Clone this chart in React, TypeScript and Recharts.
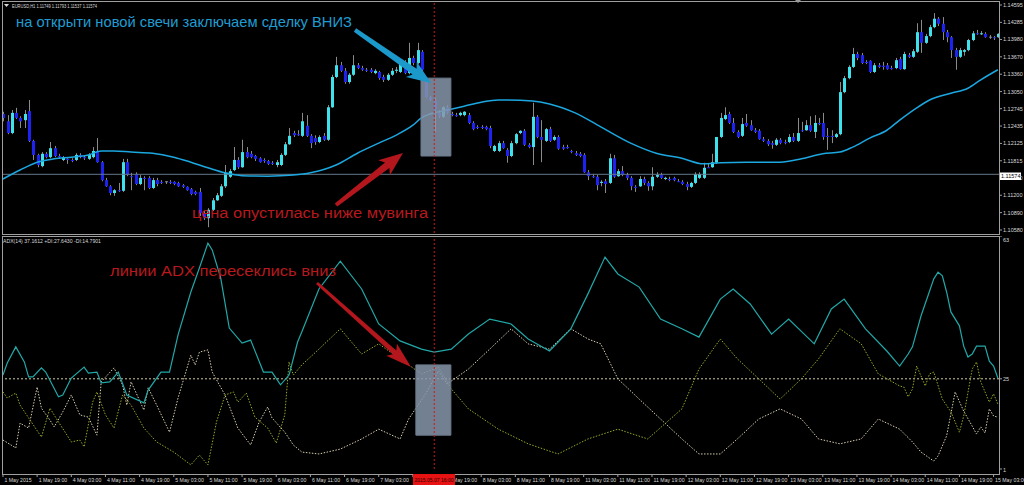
import React from "react";
import {
  ComposedChart,
  Bar,
  Line,
  XAxis,
  YAxis,
  ReferenceLine,
  ReferenceArea,
} from "recharts";

// EURUSD H1, bar 0 = 1 May 2015 11:00
const open = [
  1.1265, 1.1252, 1.1231, 1.1267, 1.1258, 1.1254, 1.127, 1.1217, 1.1192, 1.1172,
  1.1194, 1.1188, 1.1204, 1.119, 1.1183, 1.1185, 1.1183, 1.1183, 1.1192, 1.1188,
  1.1185, 1.1188, 1.1199, 1.1179, 1.1147, 1.1136, 1.1124, 1.1129, 1.1128, 1.1179,
  1.1154, 1.1158, 1.114, 1.1151, 1.1151, 1.1133, 1.1147, 1.1144, 1.1144, 1.1144,
  1.1144, 1.1142, 1.1138, 1.1135, 1.1131, 1.1126, 1.1126, 1.1088, 1.1079, 1.1094,
  1.1111, 1.1119, 1.1136, 1.1153, 1.1165, 1.1183, 1.117, 1.1197, 1.1194, 1.119,
  1.1186, 1.1183, 1.1181, 1.1178, 1.1174, 1.1174, 1.1192, 1.1211, 1.1231, 1.1229,
  1.1226, 1.1244, 1.1226, 1.1222, 1.1215, 1.1226, 1.1219, 1.1277, 1.1331, 1.1352,
  1.1342, 1.1322, 1.1335, 1.1352, 1.1347, 1.1344, 1.1344, 1.1338, 1.134, 1.1331,
  1.1326, 1.1335, 1.1342, 1.134, 1.1349, 1.1338, 1.1365, 1.1356, 1.1376, 1.1326,
  1.1295, 1.129, 1.1267, 1.126, 1.1277, 1.1265, 1.1263, 1.1263, 1.1263, 1.1263,
  1.1249, 1.1242, 1.1242, 1.1242, 1.124, 1.1199, 1.1199, 1.1213, 1.1201, 1.119,
  1.1213, 1.1231, 1.1235, 1.121, 1.1206, 1.126, 1.1224, 1.1217, 1.1238, 1.1219,
  1.1224, 1.1206, 1.1206, 1.1199, 1.1195, 1.1194, 1.1192, 1.1161, 1.1154, 1.1153,
  1.1142, 1.1145, 1.1142, 1.1186, 1.1154, 1.1163, 1.1156, 1.1151, 1.1135, 1.1136,
  1.1149, 1.1142, 1.1136, 1.1153, 1.1156, 1.1149, 1.1149, 1.1151, 1.1145, 1.1144,
  1.114, 1.1135, 1.1142, 1.1151, 1.1151, 1.117, 1.117, 1.1178, 1.1224, 1.1256,
  1.1265, 1.1249, 1.1233, 1.1226, 1.1249, 1.1245, 1.1236, 1.1235, 1.122, 1.1217,
  1.1213, 1.121, 1.1219, 1.1215, 1.1215, 1.1224, 1.1217, 1.1236, 1.1236, 1.1245,
  1.1233, 1.1249, 1.1249, 1.1226, 1.1226, 1.1224, 1.1229, 1.1304, 1.1329, 1.1349,
  1.1372, 1.137, 1.1358, 1.136, 1.134, 1.1352, 1.1351, 1.1352, 1.1347, 1.1347,
  1.1363, 1.1345, 1.137, 1.1367, 1.1376, 1.1411, 1.1392, 1.1404, 1.142, 1.1435,
  1.1426, 1.1411, 1.1402, 1.1379, 1.1367, 1.1376, 1.1379, 1.1397, 1.1409, 1.1408,
  1.1408, 1.1402, 1.1402, 1.1402,
];
const high = [
  1.1269, 1.1263, 1.1272, 1.1276, 1.1261, 1.1272, 1.129, 1.1219, 1.1194, 1.1197,
  1.1197, 1.1215, 1.1208, 1.1194, 1.119, 1.1186, 1.1186, 1.1195, 1.1195, 1.119,
  1.1195, 1.1206, 1.1222, 1.1181, 1.1151, 1.1138, 1.1131, 1.1142, 1.1185, 1.1185,
  1.116, 1.1161, 1.1156, 1.1154, 1.1154, 1.1151, 1.1151, 1.1147, 1.1145, 1.1147,
  1.1145, 1.1144, 1.114, 1.1136, 1.1133, 1.1128, 1.1133, 1.1092, 1.1097, 1.1115,
  1.1124, 1.114, 1.1174, 1.1167, 1.1206, 1.1188, 1.1219, 1.1206, 1.1199, 1.1192,
  1.1188, 1.1186, 1.1183, 1.1181, 1.1183, 1.1195, 1.1215, 1.124, 1.1235, 1.1236,
  1.1267, 1.1263, 1.1229, 1.1227, 1.1227, 1.1231, 1.1281, 1.1335, 1.1367, 1.1358,
  1.1347, 1.1338, 1.137, 1.1356, 1.1351, 1.1347, 1.1347, 1.1345, 1.1342, 1.1335,
  1.1338, 1.1347, 1.1349, 1.1358, 1.1361, 1.1392, 1.1369, 1.1392, 1.1379, 1.1327,
  1.1297, 1.1294, 1.1272, 1.1279, 1.1281, 1.1269, 1.1267, 1.1269, 1.127, 1.1267,
  1.1252, 1.1245, 1.1245, 1.1244, 1.1244, 1.121, 1.1217, 1.1217, 1.1204, 1.1217,
  1.1231, 1.1236, 1.1238, 1.1213, 1.1285, 1.1263, 1.1254, 1.124, 1.1242, 1.1227,
  1.1227, 1.121, 1.121, 1.1201, 1.1199, 1.1197, 1.1195, 1.1165, 1.1158, 1.1156,
  1.1147, 1.1149, 1.1194, 1.1192, 1.1167, 1.1172, 1.116, 1.1154, 1.1138, 1.1154,
  1.1153, 1.1145, 1.117, 1.1161, 1.116, 1.1153, 1.1153, 1.1153, 1.1149, 1.1147,
  1.1144, 1.1144, 1.1161, 1.1161, 1.1178, 1.1176, 1.1194, 1.1224, 1.1267, 1.1277,
  1.1269, 1.1258, 1.1236, 1.1258, 1.1265, 1.1254, 1.124, 1.1238, 1.1224, 1.122,
  1.1217, 1.1222, 1.1222, 1.1219, 1.1229, 1.1231, 1.1258, 1.1251, 1.1254, 1.1261,
  1.1263, 1.1258, 1.1267, 1.124, 1.1236, 1.1231, 1.1322, 1.1333, 1.1352, 1.1383,
  1.1376, 1.1374, 1.1361, 1.1361, 1.1356, 1.1356, 1.1358, 1.1356, 1.1351, 1.1365,
  1.1367, 1.1376, 1.1374, 1.1381, 1.1427, 1.1433, 1.1408, 1.1424, 1.1445, 1.1438,
  1.1438, 1.1415, 1.1404, 1.1383, 1.1383, 1.1381, 1.1399, 1.1413, 1.1415, 1.1413,
  1.1411, 1.1406, 1.1404, 1.1409,
];
const low = [
  1.1252, 1.1229, 1.1229, 1.1256, 1.124, 1.124, 1.1215, 1.1183, 1.117, 1.117,
  1.1186, 1.1186, 1.1188, 1.1186, 1.1181, 1.1176, 1.1179, 1.1181, 1.1186, 1.1183,
  1.1183, 1.1186, 1.1178, 1.1145, 1.1135, 1.112, 1.1119, 1.1126, 1.1126, 1.1154,
  1.1129, 1.1138, 1.1138, 1.1129, 1.1131, 1.1131, 1.1136, 1.114, 1.114, 1.114,
  1.1138, 1.1135, 1.1133, 1.1128, 1.112, 1.112, 1.1083, 1.1076, 1.1063, 1.1092,
  1.111, 1.1117, 1.1133, 1.1151, 1.1163, 1.1167, 1.1169, 1.1186, 1.1186, 1.1181,
  1.1178, 1.1178, 1.1174, 1.1174, 1.117, 1.1172, 1.119, 1.121, 1.1224, 1.1226,
  1.1224, 1.1224, 1.1204, 1.121, 1.1213, 1.1217, 1.1217, 1.1276, 1.1329, 1.134,
  1.1319, 1.1319, 1.1333, 1.1345, 1.1342, 1.134, 1.1338, 1.1336, 1.1326, 1.1322,
  1.1324, 1.1333, 1.1338, 1.1338, 1.1336, 1.1336, 1.1352, 1.1354, 1.1342, 1.1294,
  1.1288, 1.1233, 1.1258, 1.1258, 1.1265, 1.1261, 1.126, 1.1261, 1.1261, 1.1247,
  1.1236, 1.1238, 1.1238, 1.1236, 1.1204, 1.1197, 1.1197, 1.1203, 1.1178, 1.1188,
  1.1211, 1.1229, 1.1208, 1.1204, 1.1174, 1.1222, 1.1179, 1.1215, 1.1215, 1.1217,
  1.1201, 1.1201, 1.1203, 1.1195, 1.119, 1.1188, 1.116, 1.1147, 1.1151, 1.1129,
  1.1136, 1.1124, 1.114, 1.1151, 1.1153, 1.1154, 1.1147, 1.1129, 1.1126, 1.1135,
  1.1138, 1.1128, 1.1129, 1.1151, 1.1149, 1.1147, 1.1145, 1.1145, 1.1144, 1.1138,
  1.1129, 1.1133, 1.114, 1.1149, 1.1149, 1.1169, 1.1169, 1.1176, 1.1222, 1.1254,
  1.1247, 1.1231, 1.1222, 1.1224, 1.1242, 1.1235, 1.1231, 1.1219, 1.1215, 1.1208,
  1.1203, 1.1208, 1.1211, 1.1211, 1.1213, 1.1215, 1.1215, 1.1233, 1.1235, 1.1233,
  1.1222, 1.1245, 1.1219, 1.1201, 1.1213, 1.1222, 1.1227, 1.1302, 1.1327, 1.1347,
  1.1361, 1.1354, 1.1354, 1.1338, 1.1338, 1.1347, 1.1344, 1.1344, 1.1344, 1.1345,
  1.1344, 1.1344, 1.1365, 1.1365, 1.1374, 1.1374, 1.139, 1.1402, 1.1418, 1.1422,
  1.1397, 1.1393, 1.1365, 1.1344, 1.1365, 1.1369, 1.1377, 1.1395, 1.1406, 1.1406,
  1.1401, 1.1399, 1.1397, 1.1401,
];
const close = [
  1.1258, 1.1231, 1.1267, 1.1258, 1.1252, 1.1265, 1.1217, 1.1192, 1.1174, 1.1194,
  1.1188, 1.1204, 1.119, 1.1188, 1.1188, 1.1183, 1.1181, 1.1192, 1.1188, 1.1186,
  1.1192, 1.1199, 1.1179, 1.1147, 1.1136, 1.1124, 1.1129, 1.1128, 1.1179, 1.1156,
  1.1153, 1.114, 1.1151, 1.1149, 1.1133, 1.1147, 1.114, 1.1142, 1.1144, 1.1142,
  1.114, 1.1136, 1.1135, 1.1129, 1.1122, 1.1122, 1.1088, 1.1079, 1.1094, 1.1111,
  1.112, 1.1136, 1.116, 1.1163, 1.1183, 1.117, 1.1197, 1.1188, 1.1188, 1.1185,
  1.1179, 1.1181, 1.1176, 1.1176, 1.1179, 1.1192, 1.1211, 1.1226, 1.1227, 1.1227,
  1.1252, 1.1226, 1.1213, 1.1215, 1.1224, 1.1219, 1.1277, 1.1331, 1.1352, 1.1342,
  1.1322, 1.1335, 1.1352, 1.1347, 1.1344, 1.1342, 1.134, 1.1342, 1.1329, 1.1326,
  1.1335, 1.1342, 1.1344, 1.1356, 1.1338, 1.1365, 1.1356, 1.1379, 1.1344, 1.1295,
  1.129, 1.1272, 1.1261, 1.1277, 1.1267, 1.1263, 1.1261, 1.1267, 1.1269, 1.1249,
  1.1238, 1.124, 1.124, 1.1238, 1.1208, 1.1208, 1.1213, 1.1204, 1.119, 1.1213,
  1.1229, 1.1235, 1.121, 1.1206, 1.126, 1.1224, 1.1219, 1.1238, 1.1217, 1.1224,
  1.1203, 1.1203, 1.1204, 1.1197, 1.1192, 1.119, 1.1161, 1.1154, 1.1153, 1.1138,
  1.1144, 1.114, 1.1186, 1.1153, 1.1163, 1.1156, 1.1151, 1.1136, 1.1133, 1.1149,
  1.1142, 1.1136, 1.1153, 1.1156, 1.1151, 1.1151, 1.1147, 1.1147, 1.1144, 1.114,
  1.1135, 1.1142, 1.1158, 1.1158, 1.1169, 1.1169, 1.1179, 1.1224, 1.1258, 1.1263,
  1.1249, 1.1233, 1.1224, 1.1247, 1.1244, 1.1236, 1.1233, 1.122, 1.1217, 1.1211,
  1.121, 1.1219, 1.1213, 1.1213, 1.1224, 1.1217, 1.1231, 1.1235, 1.1245, 1.1235,
  1.1249, 1.1247, 1.1224, 1.1224, 1.1224, 1.1229, 1.1304, 1.1329, 1.1349, 1.1372,
  1.1365, 1.1356, 1.1356, 1.134, 1.1352, 1.1349, 1.1349, 1.1345, 1.1345, 1.1361,
  1.1345, 1.1372, 1.1367, 1.1377, 1.1411, 1.1392, 1.1404, 1.142, 1.1435, 1.1426,
  1.1411, 1.1402, 1.1379, 1.1367, 1.1379, 1.1379, 1.1397, 1.1409, 1.1408, 1.1409,
  1.1402, 1.1402, 1.1401, 1.1408,
];

const maPoints: [number, number][] = [
  [0, 1.1149], [4, 1.1165], [8, 1.1179], [12, 1.1185], [16, 1.1188], [20, 1.1192],
  [23, 1.1199], [26, 1.1199], [30, 1.1197], [35, 1.1195], [40, 1.1188], [44, 1.1179],
  [48, 1.1169], [52, 1.116], [56, 1.1155], [62, 1.1154], [68, 1.1156], [72, 1.116],
  [78, 1.1174], [83, 1.1195], [88, 1.1213], [92, 1.1227], [96, 1.1245], [98, 1.1258],
  [100, 1.1265], [104, 1.1272], [108, 1.1279], [112, 1.1286], [116, 1.129], [124, 1.1288],
  [128, 1.1283], [134, 1.1267], [140, 1.1242], [147, 1.1213], [153, 1.1195], [159, 1.1186],
  [164, 1.1176], [168, 1.1178], [174, 1.1179], [182, 1.1179], [187, 1.1185], [192, 1.1194],
  [196, 1.1197], [199, 1.1206], [203, 1.1222], [207, 1.1236], [210, 1.1254], [214, 1.1276],
  [217, 1.129], [222, 1.1302], [226, 1.1311], [229, 1.1326], [233, 1.1344],
];

// ADX(14) window [bar, value]
const adxPoints: [number, number][] = [
  [0, 26.0], [1, 29.2], [3, 33.5], [5, 29.5], [6, 25.5], [7, 25.5], [9, 27.9], [10, 26.8],
  [13, 20.2], [14, 20.7], [16, 25.2], [19, 28.1], [20, 26.5], [22, 26.8], [23, 23.9],
  [25, 24.2], [27, 26.8], [29, 20.7], [33, 18.6], [34, 22.0], [37, 26.8], [39, 26.8],
  [41, 36.7], [44, 48.1], [46, 54.5], [48, 61.1], [49, 59.3], [51, 51.8], [53, 38.5],
  [56, 34.5], [58, 35.3], [61, 26.8], [63, 26.8], [65, 23.4], [67, 26.0], [69, 34.8],
  [70, 37.5], [74, 48.9], [79, 56.3], [84, 48.9], [88, 39.6], [93, 35.1], [98, 32.9],
  [101, 32.1], [105, 32.9], [109, 36.9], [114, 40.9], [119, 39.6], [123, 35.6], [128, 32.4],
  [133, 38.3], [137, 47.6], [141, 57.4], [144, 52.9], [149, 49.4], [154, 40.9], [159, 38.3],
  [163, 36.1], [168, 46.2], [171, 48.9], [175, 44.9], [180, 36.9], [184, 40.9], [190, 34.3],
  [194, 43.6], [197, 46.2], [202, 38.3], [207, 32.4], [210, 28.4], [212, 31.6], [213, 33.5],
  [215, 41.7], [218, 51.6], [219, 53.4], [220, 52.4], [221, 48.1], [222, 42.8], [224, 39.1],
  [225, 33.7], [226, 30.8], [227, 31.6], [228, 33.7], [230, 33.7], [231, 29.7], [232, 28.4],
  [233, 25.2],
];
const plusDiPoints: [number, number][] = [
  [0, 21.5], [1, 19.9], [3, 21.2], [4, 18.0], [6, 14.6], [9, 9.5], [11, 17.2], [13, 13.5],
  [15, 10.0], [16, 8.2], [18, 8.7], [19, 6.9], [21, 18.8], [22, 21.5], [24, 15.4], [26, 11.9],
  [28, 20.7], [30, 18.0], [33, 11.9], [36, 8.2], [40, 5.5], [44, 2.1], [46, 4.7], [48, 2.1],
  [50, 13.5], [52, 20.7], [54, 21.5], [55, 18.8], [57, 21.2], [59, 14.8], [62, 11.9], [64, 7.9],
  [66, 15.4], [67, 29.5], [68, 26.0], [70, 28.7], [74, 32.9], [79, 38.3], [84, 31.6], [88, 34.3],
  [93, 30.3], [98, 26.3], [102, 28.1], [105, 22.3], [109, 17.0], [116, 11.6], [123, 7.7],
  [130, 5.0], [137, 9.0], [144, 11.6], [151, 9.0], [159, 17.0], [163, 27.6], [168, 35.6],
  [172, 30.3], [177, 25.0], [182, 19.6], [187, 25.0], [191, 30.3], [196, 38.3], [201, 34.3],
  [205, 26.3], [210, 23.1], [211, 22.8], [212, 20.2], [213, 22.3], [214, 28.4], [216, 23.1],
  [217, 26.3], [218, 26.8], [220, 19.6], [222, 16.2], [224, 10.8], [225, 15.1], [227, 27.6],
  [228, 29.5], [229, 24.2], [231, 18.8], [232, 21.0], [233, 18.3],
];
const minusDiPoints: [number, number][] = [
  [0, 8.7], [3, 6.6], [4, 13.2], [6, 11.9], [8, 22.8], [9, 17.2], [11, 14.0], [12, 12.2],
  [14, 16.2], [16, 20.7], [18, 15.4], [20, 14.8], [22, 10.0], [23, 24.2], [26, 27.9], [28, 23.4],
  [29, 18.0], [30, 24.2], [33, 16.7], [34, 22.6], [36, 18.0], [39, 10.8], [41, 19.9], [44, 31.3],
  [45, 28.7], [46, 32.1], [48, 32.7], [49, 26.8], [52, 20.7], [55, 11.9], [58, 7.4], [60, 13.5],
  [62, 17.5], [63, 14.6], [66, 10.8], [68, 7.4], [70, 5.5], [74, 5.0], [79, 6.3], [84, 9.0],
  [88, 11.6], [93, 9.0], [95, 14.3], [99, 21.0], [102, 27.1], [104, 23.6], [109, 27.6],
  [114, 32.9], [119, 38.3], [123, 34.3], [128, 32.9], [133, 38.3], [137, 35.6], [140, 34.3],
  [144, 25.0], [149, 19.6], [154, 14.3], [159, 9.0], [163, 5.0], [168, 5.0], [172, 9.0],
  [177, 14.3], [182, 17.0], [187, 14.3], [191, 9.0], [196, 7.7], [201, 9.0], [205, 14.3],
  [210, 11.6], [213, 8.2], [215, 5.5], [218, 3.1], [219, 4.5], [221, 9.8], [223, 21.5],
  [225, 16.4], [227, 12.4], [228, 10.3], [229, 12.2], [230, 10.6], [231, 17.0], [232, 15.1],
  [233, 14.8],
];

// time axis: one label every 8 bars
const timeLabels = [
  "1 May 2015", "1 May 19:00", "4 May 03:00", "4 May 11:00", "4 May 19:00", "5 May 03:00",
  "5 May 11:00", "5 May 19:00", "6 May 03:00", "6 May 11:00", "6 May 19:00", "7 May 03:00",
  "7 May 11:00", "7 May 19:00", "8 May 03:00", "8 May 11:00", "8 May 19:00", "11 May 03:00",
  "11 May 11:00", "11 May 19:00", "12 May 03:00", "12 May 11:00", "12 May 19:00", "13 May 03:00",
  "13 May 11:00", "13 May 19:00", "14 May 03:00", "14 May 11:00", "14 May 19:00", "15 May 03:00",
];
const timeTicks = timeLabels.map((_l, k) => k * 8);
const priceTicks = [
  1.14595, 1.14285, 1.1398, 1.1367, 1.1336, 1.1305, 1.12745, 1.12435, 1.12125, 1.11815,
  1.1151, 1.112, 1.1089, 1.1058,
];
const adxTicks = [1, 25, 63];
const lastPrice = 1.11574;
const signalBar = 101;
const signalTime = "2015.05.07 16:00";

const BULL = "#3fe2ea";
const BEAR = "#1d22f2";
const WICK = "#8a8a8a";
const FRAME = "#a0a0a0";
const TEXT = "#d8d8d8";
const FONT = "'Liberation Sans', Arial, sans-serif";
const PLOT_RIGHT = 999;
const X_DOMAIN: [number, number] = [-0.23, 233.27];
// crosshair time tag on the bottom axis
const TAG_LEFT = 413;
const TAG_RIGHT = 455;

const maMap = new Map(maPoints);
const adxMap = new Map(adxPoints);
const pdiMap = new Map(plusDiPoints);
const mdiMap = new Map(minusDiPoints);

const rows = open.map((o, i) => ({
  i,
  open: o,
  high: high[i],
  low: low[i],
  close: close[i],
  ma: maMap.get(i),
  adx: adxMap.get(i),
  pdi: pdiMap.get(i),
  mdi: mdiMap.get(i),
}));

function Candle(props: any) {
  const { x, y, width, height, payload } = props;
  if (x == null || y == null || !payload) return null;
  const top = Math.min(y, y + height);
  const h = Math.abs(height);
  const { open: o, high: hi, low: lo, close: c } = payload;
  const cx = Math.round(x + width / 2) + 0.5;
  const span = hi - lo || 1;
  const py = (v: number) => top + ((hi - v) / span) * h;
  const bodyTop = py(Math.max(o, c));
  const bodyBot = py(Math.min(o, c));
  return (
    <g>
      <line x1={cx} x2={cx} y1={top} y2={top + h} stroke={WICK} strokeWidth={1} />
      {o === c ? (
        <line x1={cx - 1.5} x2={cx + 1.5} y1={bodyTop} y2={bodyTop} stroke={WICK} />
      ) : (
        <rect
          x={cx - 1.5}
          y={bodyTop}
          width={3}
          height={Math.max(1, bodyBot - bodyTop)}
          fill={c > o ? BULL : BEAR}
        />
      )}
    </g>
  );
}

function PriceTick(props: any) {
  const { y, payload } = props;
  return (
    <g>
      <line x1={PLOT_RIGHT} x2={PLOT_RIGHT + 3} y1={y} y2={y} stroke={FRAME} />
      <text x={PLOT_RIGHT + 4} y={y + 2} fill={TEXT} fontSize={5.5} fontFamily={FONT}>
        {payload.value.toFixed(5)}
      </text>
    </g>
  );
}

function AdxTick(props: any) {
  const { y, payload } = props;
  const dy = payload.value === 63 ? 6 : payload.value === 1 ? 3 : 2;
  return (
    <g>
      <line x1={PLOT_RIGHT} x2={PLOT_RIGHT + 3} y1={y} y2={y} stroke={FRAME} />
      <text x={PLOT_RIGHT + 4} y={y + dy} fill={TEXT} fontSize={5.5} fontFamily={FONT}>
        {payload.value}
      </text>
    </g>
  );
}

function TimeTick(props: any) {
  const { x, payload } = props;
  const label = timeLabels[Math.round(payload.value / 8)];
  // a label lying wholly under the crosshair time tag is not visible, as in MT4
  const hidden = x + 1.5 >= TAG_LEFT && x + 1.5 + label.length * 2.6 <= TAG_RIGHT;
  return (
    <g>
      <line x1={x} x2={x} y1={238} y2={241} stroke={FRAME} />
      {!hidden && (
        <text x={x + 1.5} y={246} fill={TEXT} fontSize={5.2} fontFamily={FONT}>
          {label}
        </text>
      )}
    </g>
  );
}

function Arrow({ from, to, tail, shaft, headW, headL, color }: any) {
  const [x1, y1] = from;
  const [x2, y2] = to;
  const len = Math.hypot(x2 - x1, y2 - y1);
  const ux = (x2 - x1) / len;
  const uy = (y2 - y1) / len;
  const nx = -uy;
  const ny = ux;
  const bx = x2 - ux * headL;
  const by = y2 - uy * headL;
  const p = (px: number, py: number, s: number) => `${px + nx * s},${py + ny * s}`;
  const pts = [
    p(x1, y1, tail / 2),
    p(bx, by, shaft / 2),
    p(bx - ux * 4, by - uy * 4, headW / 2),
    `${x2},${y2}`,
    p(bx - ux * 4, by - uy * 4, -headW / 2),
    p(bx, by, -shaft / 2),
    p(x1, y1, -tail / 2),
  ].join(" ");
  return <polygon points={pts} fill={color} />;
}

function Overlay() {
  return (
    <svg
      width={1024}
      height={485}
      style={{ position: "absolute", left: 0, top: 0, pointerEvents: "none" }}
    >
      <rect x={2.5} y={1.5} width={997} height={233} fill="none" stroke={FRAME} />
      <rect x={2.5} y={236.5} width={997} height={238} fill="none" stroke={FRAME} />
      <polygon points="795,0 801,0 798,3" fill="#9a9a9a" />

      <polygon points="4,4 9,4 6.5,7" fill={TEXT} />
      <text x={12} y={7.5} fontSize={5.5} fill={TEXT} fontFamily={FONT} textLength={85} lengthAdjust="spacingAndGlyphs">
        EURUSD,H1  1.11749 1.11793 1.11537 1.11574
      </text>
      <text x={3} y={243} fontSize={5.5} fill={TEXT} fontFamily={FONT} textLength={98} lengthAdjust="spacingAndGlyphs">
        ADX(14) 37.1612 +DI:27.6430 -DI:14.7901
      </text>

      <rect x={1000} y={172.5} width={21} height={7.5} fill="#ffffff" />
      <text x={1001} y={178.3} fontSize={5.5} fill="#000" fontFamily={FONT}>
        {lastPrice.toFixed(5)}
      </text>

      <rect x={TAG_LEFT} y={474} width={TAG_RIGHT - TAG_LEFT} height={11} fill="#e81212" />
      <text x={TAG_LEFT + 1.5} y={482} fontSize={5.5} fill="#2a0000" fontFamily={FONT} textLength={39} lengthAdjust="spacingAndGlyphs">
        {signalTime}
      </text>

      <text x={16} y={27.3} fontSize={15} fill="#1f9dd3" fontFamily={FONT} textLength={336} lengthAdjust="spacingAndGlyphs">
        на открыти новой свечи заключаем сделку ВНИЗ
      </text>
      <text x={192} y={218} fontSize={15.5} fill="#b8181e" fontFamily={FONT} textLength={236} lengthAdjust="spacingAndGlyphs">
        цена опустилась ниже мувинга
      </text>
      <text x={110} y={275.5} fontSize={15} fill="#b8181e" fontFamily={FONT} textLength={226} lengthAdjust="spacingAndGlyphs">
        линии ADX пересеклись вниз
      </text>

      <Arrow from={[355, 30]} to={[431, 83]} tail={4} shaft={7} headW={19} headL={20} color="#1b99cb" />
      <Arrow from={[336, 205]} to={[403, 153]} tail={4} shaft={7} headW={19} headL={20} color="#b3161c" />
      <Arrow from={[317, 283]} to={[411, 367]} tail={3} shaft={5} headW={16} headL={22} color="#b3161c" />
    </svg>
  );
}

export default function App() {
  return (
    <div
      style={{
        position: "relative",
        width: 1024,
        height: 485,
        background: "#000",
        overflow: "hidden",
        fontFamily: FONT,
      }}
    >
      <style>{"body{margin:0;background:#000}"}</style>
      <div style={{ position: "absolute", left: 0, top: 0 }}>
        <ComposedChart
          width={1024}
          height={236}
          data={rows}
          margin={{ top: 2, right: 0, bottom: 3, left: 2 }}
        >
          <XAxis dataKey="i" type="number" domain={X_DOMAIN} allowDataOverflow hide />
          <YAxis
            orientation="right"
            width={25}
            domain={[1.105265, 1.146485]}
            allowDataOverflow
            ticks={priceTicks}
            interval={0}
            tick={<PriceTick />}
            axisLine={false}
            tickLine={false}
          />
          <ReferenceLine y={lastPrice} stroke="#66788a" strokeWidth={1} />
          <Bar
            dataKey={(d: any) => [d.low, d.high]}
            barSize={3}
            shape={(p: any) => <Candle {...p} />}
            isAnimationActive={false}
          />
          <Line
            dataKey="ma"
            type="monotone"
            connectNulls
            dot={false}
            stroke="#1ba7e0"
            strokeWidth={1.5}
            isAnimationActive={false}
          />
          <ReferenceArea
            x1={97.9}
            x2={104.9}
            y1={1.119}
            y2={1.1329}
            fill="#8797ab"
            fillOpacity={0.85}
            stroke="#6b7b8d"
            zIndex={1000}
          />
          <ReferenceLine x={signalBar} stroke="#d01414" strokeDasharray="2 2" zIndex={1001} />
        </ComposedChart>
      </div>
      <div style={{ position: "absolute", left: 0, top: 236 }}>
        <ComposedChart
          width={1024}
          height={249}
          data={rows}
          margin={{ top: 0, right: 0, bottom: 0, left: 2 }}
        >
          <XAxis
            dataKey="i"
            type="number"
            domain={X_DOMAIN}
            allowDataOverflow
            ticks={timeTicks}
            interval={0}
            height={16}
            tick={<TimeTick />}
            axisLine={false}
            tickLine={false}
          />
          <YAxis
            orientation="right"
            width={25}
            domain={[1, 63]}
            allowDataOverflow
            ticks={adxTicks}
            interval={0}
            tick={<AdxTick />}
            axisLine={false}
            tickLine={false}
          />
          <ReferenceLine y={25} stroke="#cfcaa0" strokeDasharray="2 2" />
          <Line
            dataKey="mdi"
            connectNulls
            dot={false}
            stroke="#d9cfb0"
            strokeWidth={1}
            strokeDasharray="1.5 1.5"
            isAnimationActive={false}
          />
          <Line
            dataKey="pdi"
            connectNulls
            dot={false}
            stroke="#98a826"
            strokeWidth={1}
            strokeDasharray="1.5 1.5"
            isAnimationActive={false}
          />
          <Line
            dataKey="adx"
            connectNulls
            dot={false}
            stroke="#22a8a8"
            strokeWidth={1.2}
            isAnimationActive={false}
          />
          <ReferenceArea
            x1={96.7}
            x2={104.9}
            y1={10.0}
            y2={28.7}
            fill="#8797ab"
            fillOpacity={0.85}
            stroke="#6b7b8d"
            zIndex={1000}
          />
          <ReferenceLine x={signalBar} stroke="#d01414" strokeDasharray="2 2" zIndex={1001} />
        </ComposedChart>
      </div>
      <Overlay />
    </div>
  );
}
